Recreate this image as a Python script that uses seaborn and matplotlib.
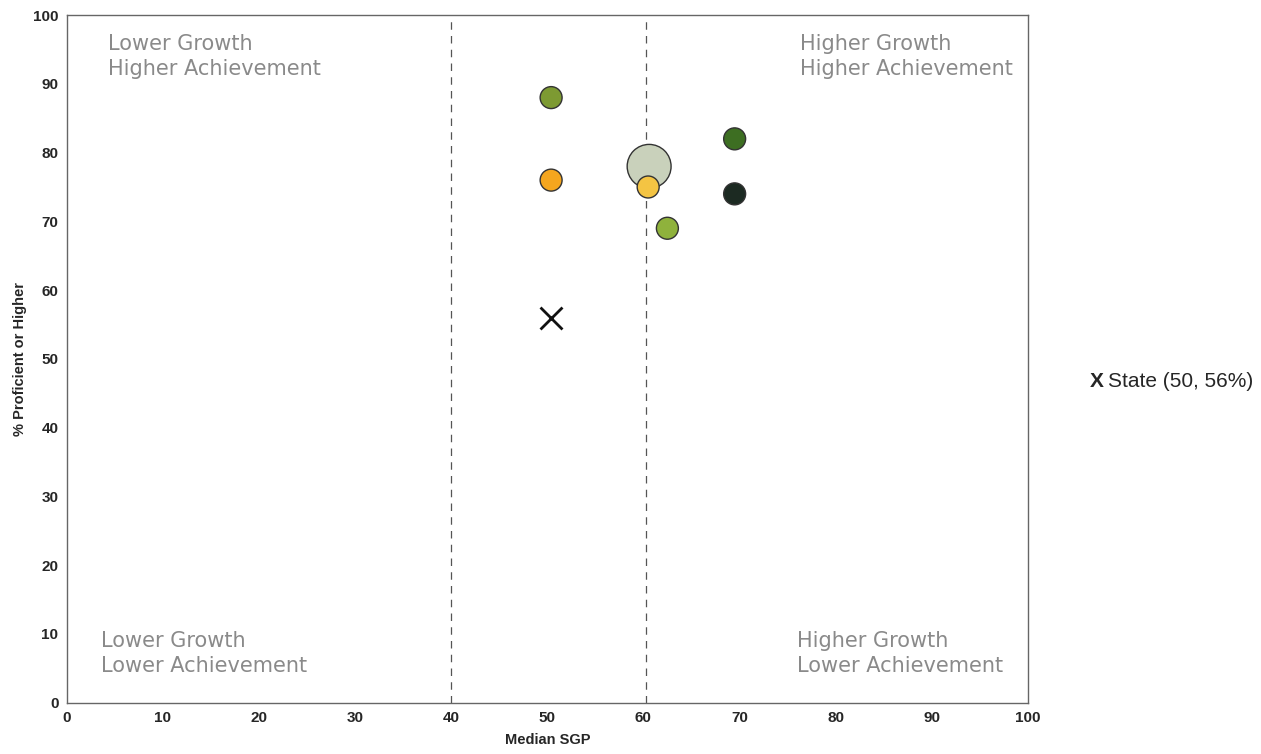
import seaborn as sns
import matplotlib.pyplot as plt
import pandas as pd

# values
groups = ["A", "B", "C", "D", "E", "F", "G"]
sgp = [50.4, 50.4, 60.6, 60.5, 62.5, 69.5, 69.5]
proficient = [88, 76, 78, 75, 69, 82, 74]
sizes = [250, 250, 1000, 250, 250, 250, 250]
colors = ["#7d9a32", "#f5a61e", "#c9d1bb", "#f4c443", "#8fb23c", "#3d6e22", "#1c2a22"]

state_sgp = 50.4
state_prof = 56

quadrants = ["Lower Growth\nHigher Achievement", "Higher Growth\nHigher Achievement",
             "Lower Growth\nLower Achievement", "Higher Growth\nLower Achievement"]
quad_x = [4.3, 76.3, 3.6, 76.0]
quad_y = [97.2, 97.2, 10.4, 10.4]

df = pd.DataFrame({"group": groups, "sgp": sgp, "prof": proficient, "size": sizes})

sns.set_style("white")
plt.rcParams["font.family"] = ["Liberation Sans", "DejaVu Sans"]

fig = plt.figure(figsize=(12.61, 7.54), dpi=100)
ax = fig.add_axes([0.053, 0.068, 0.762, 0.912])

sns.scatterplot(data=df, x="sgp", y="prof", hue="group", palette=colors, size="size",
                sizes=(250, 1000), edgecolor="#333333", linewidth=1, legend=False, ax=ax, zorder=3)
ax.scatter([state_sgp], [state_prof], marker="x", s=250, color="#111111", linewidths=2, zorder=3)

for xv in [40, 60.3]:
    ax.axvline(xv, color="#555555", linestyle=(0, (6, 5)), linewidth=0.9, zorder=1)

for label, qx, qy in zip(quadrants, quad_x, quad_y):
    ax.text(qx, qy, label, color="#8a8a8a", fontsize=15, va="top", ha="left",
            family="DejaVu Sans", linespacing=1.3)

ax.set_xlim(0, 100)
ax.set_ylim(0, 100)
ax.set_xticks(range(0, 101, 10))
ax.set_yticks(range(0, 101, 10))
ax.tick_params(length=0, labelsize=11, pad=6)
for t in ax.get_xticklabels() + ax.get_yticklabels():
    t.set_fontweight("bold")
ax.set_xlabel("Median SGP", fontsize=10.5, fontweight="bold", labelpad=6)
ax.set_ylabel("% Proficient or Higher", fontsize=10.5, fontweight="bold", labelpad=4)
for s in ax.spines.values():
    s.set_color("#666666")
    s.set_linewidth(1)

fig.text(0.864, 0.494, "X", fontsize=15, fontweight="bold", va="center", ha="left")
fig.text(0.879, 0.494, "State (50, 56%)", fontsize=15, va="center", ha="left")

fig.savefig("out.png", dpi=100)
